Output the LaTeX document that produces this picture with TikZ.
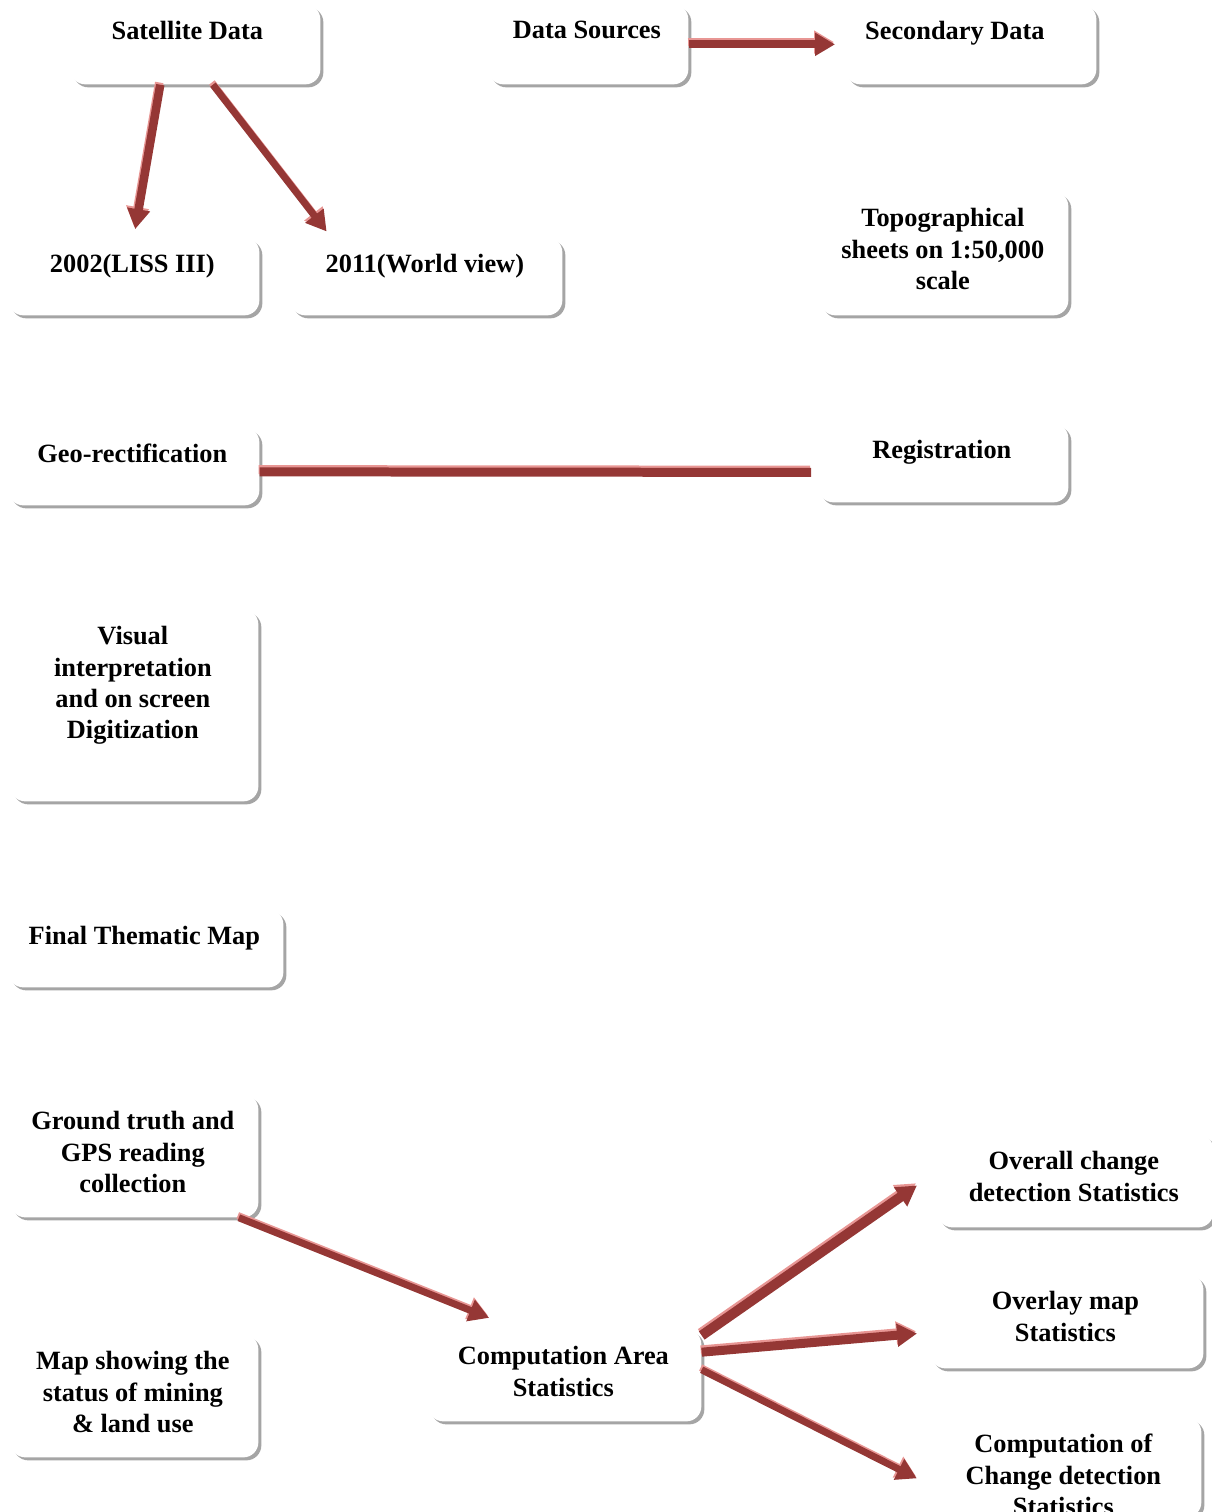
\documentclass[tikz,border=0pt]{standalone}
\usepackage{fontspec}
\setmainfont{Liberation Serif}
\usetikzlibrary{arrows.meta, shadows, calc}
\definecolor{arrowred}{RGB}{149,55,53}
\definecolor{arrowpink}{RGB}{232,150,148}
\definecolor{shadowgray}{RGB}{165,165,165}
\newlength\pxu
\setlength\pxu{0.02cm}
% box text: [right skip]{width}{height}{lines}
\newcommand{\boxtxt}[4][3]{\parbox[c][#3\pxu][t]{#2\pxu}{\centering\rightskip=#1\pxu plus 1fil\vspace*{17\pxu}#4}}

\begin{document}
\begin{tikzpicture}[
    x=0.02cm, y=-0.02cm,
    every node/.style={font=\fontsize{15}{17.9}\selectfont\bfseries},
    box/.style={rectangle, rounded corners=0.3cm, fill=white, inner sep=0pt, anchor=north west,
        drop shadow={shadow xshift=0.06cm, shadow yshift=-0.06cm, fill=shadowgray, opacity=1}},
    glow/.style={draw=arrowpink, transform canvas={xshift=-0.02cm, yshift=0.045cm}},
    arrow/.style={draw=arrowred, line width=#1, -{Triangle[width=0.44cm,length=0.4cm]}},
    arrow/.default=0.16cm,
    link/.style={draw=arrowred, line width=0.18cm}
]
    \useasboundingbox (0,0) rectangle (1211,1512);

    % top row
    \node[box] (sat) at (70,4)  {\boxtxt[16]{250}{80}{Satellite Data}};
    \node[box] (src) at (488,4) {\boxtxt{200}{80}{Data Sources}};
    \node[box] (sec) at (845,4) {\boxtxt[32]{251}{80}{Secondary Data}};

    % imagery and sheets
    \node[box] (liss) at (8,237)   {\boxtxt{251}{78}{2002(LISS III)}};
    \node[box] (wv)   at (290,237) {\boxtxt{272}{78}{2011(World view)}};
    \node[box] (topo) at (820,191) {\boxtxt{248}{124}{Topographical\\sheets on 1:50,000\\scale}};

    \node[box] (geo) at (8,427)   {\boxtxt{251}{78}{Geo-rectification}};
    \node[box] (reg) at (818,423) {\boxtxt{250}{79}{Registration}};

    \node[box] (vis) at (10,609) {\boxtxt{248}{192}{Visual\\interpretation\\and on screen\\Digitization}};
    \node[box] (fin) at (8,909)  {\boxtxt{275}{78}{Final Thematic Map}};

    % bottom part
    \node[box] (gt)   at (10,1094)  {\boxtxt{248}{123}{Ground truth and\\GPS reading\\collection}};
    \node[box] (map)  at (10,1334)  {\boxtxt{248}{123}{Map showing the\\status of mining\\\& land use}};
    \node[box] (comp) at (428,1329) {\boxtxt{273}{92}{Computation Area\\Statistics}};
    \node[box] (ovr)  at (937,1134) {\boxtxt{276}{93}{Overall change\\detection Statistics}};
    \node[box] (ovl)  at (930,1274) {\boxtxt{273}{94}{Overlay map\\Statistics}};
    \node[box] (chg)  at (928,1417) {\boxtxt{273}{100}{Computation of\\Change detection\\Statistics}};

    % connectors, pink edge first and red body on top
    \foreach \lay in {glow,} {
    \draw[arrow, shorten >=0.2cm, \lay] (src.east) -- (sec.west);
    \draw[arrow=0.17cm, shorten >=0.16cm, \lay] ($(sat.south west)!0.36!(sat.south east)$) -- (liss.north);
    \draw[arrow=0.14cm, shorten >=0.14cm, \lay] ($(sat.south west)!0.57!(sat.south east)$) -- ($(wv.north west)!0.15!(wv.north east)$);
    \draw[link, shorten >=0.14cm, \lay] ($(geo.north east)!0.57!(geo.south east)$) -- ($(reg.north west)!0.62!(reg.south west)$);
    \draw[arrow=0.14cm, shorten >=0.6cm, \lay] ($(gt.south west)!0.92!(gt.south east)$) -- ($(comp.north west)!0.325!(comp.north east)$);
    \draw[arrow=0.2cm, shorten >=0.49cm, \lay] ($(comp.north east)!0.07!(comp.south east)$) -- ($(ovr.north west)!0.4!(ovr.south west)$);
    \draw[arrow=0.18cm, shorten >=0.26cm, \lay] ($(comp.north east)!0.25!(comp.south east)$) -- ($(ovl.north west)!0.616!(ovl.south west)$);
    \draw[arrow=0.14cm, shorten >=0.25cm, \lay] ($(comp.north east)!0.44!(comp.south east)$) -- ($(chg.north west)!0.665!(chg.south west)$);
    }
\end{tikzpicture}
\end{document}
